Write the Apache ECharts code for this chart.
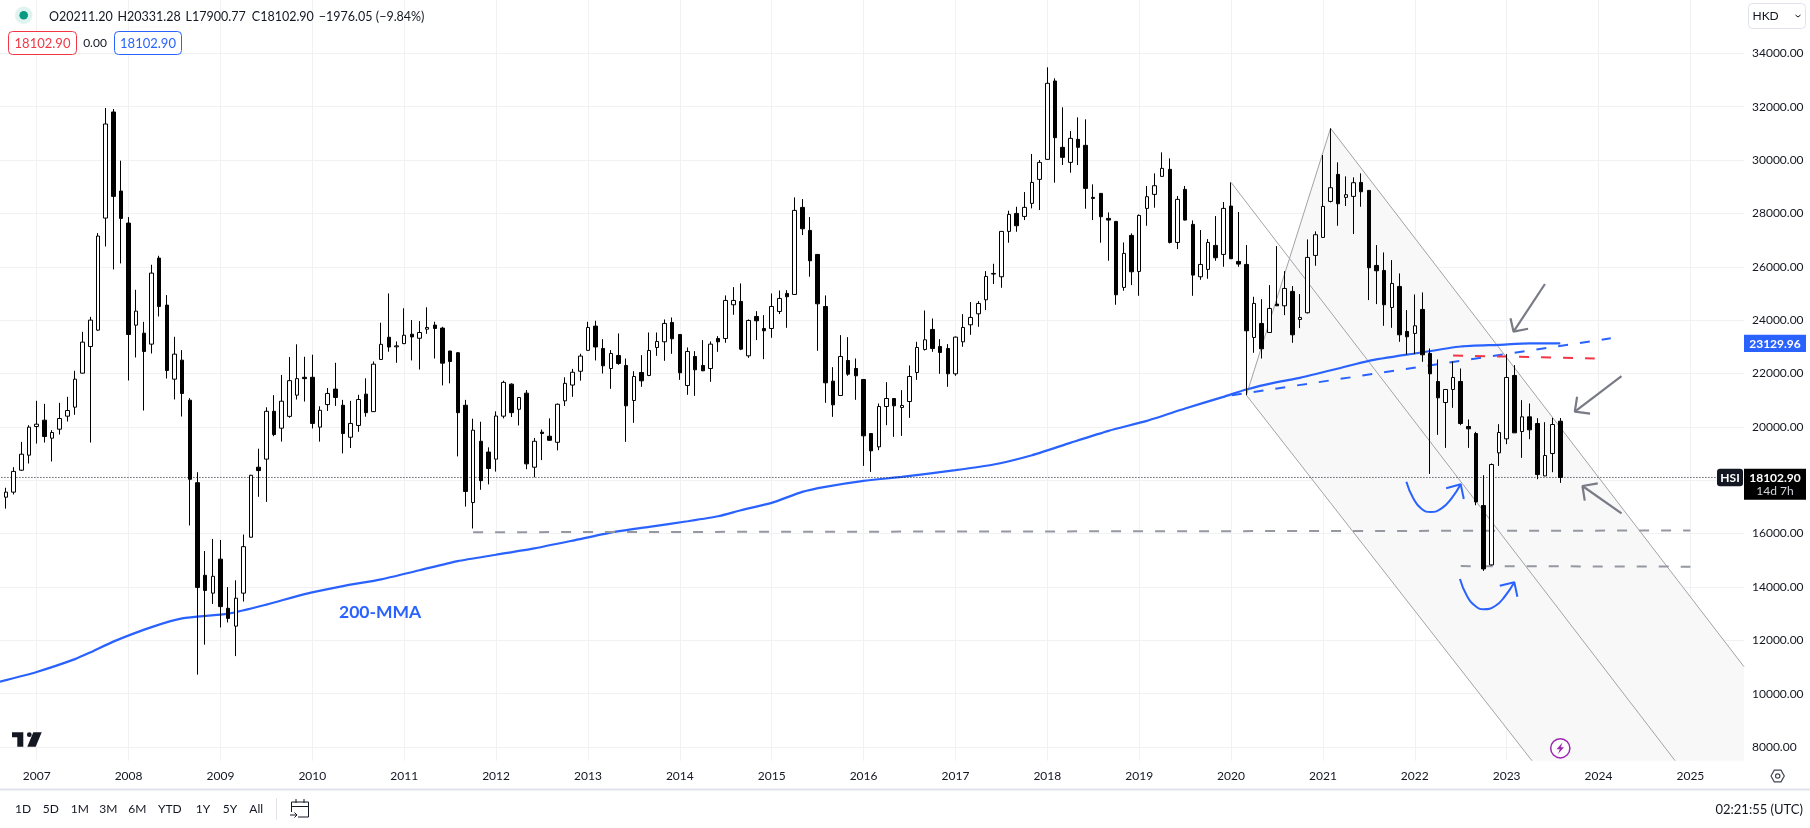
<!DOCTYPE html>
<html>
<head>
<meta charset="utf-8">
<style>html,body{margin:0;padding:0;background:#fff}#main{width:1810px;height:828px}</style>
<script src="https://cdn.jsdelivr.net/npm/echarts@6/dist/echarts.min.js"></script>
</head>
<body>
<div id="main"></div>
<script>
// monthly candles, Sep 2006 .. Aug 2023, one row per calendar year
const opens = [
17364,17553,18375,18938,
20012,20250,19575,19912,20400,20737,22012,23012,23625,27825,31800,28837,
27637,23812,23512,23100,26325,24562,21787,22500,20998,17906,14436,13767,
15042,13199,12530,13767,15862,18487,18790,20582,19951,20393,21188,21857,
21857,19989,20835,21415,20809,19610,20052,21226,20570,22526,23358,23000,
23119,23472,23320,23661,23813,23700,22841,22778,20809,17162,19459,19055,
18790,20400,21600,20658,21263,18487,19800,19648,19421,20974,21566,22084,
22866,23775,22937,22187,22675,22300,20987,22037,21925,22975,23187,23912,
23462,21550,22637,22300,22187,23312,23312,24575,24700,22662,24137,23687,
23687,24325,25000,24962,28225,27362,26462,24512,21712,21175,22487,22187,
21775,19750,19250,20762,21062,20725,20950,22037,22900,23650,23012,22937,
21987,23187,23825,24237,24762,25725,25625,27325,28000,27887,28375,29275,
30025,32962,30475,29912,30775,30550,28600,28750,27812,27700,25225,27175,
25825,28187,28712,29387,29650,26912,28900,27587,25625,25900,26800,26462,
28275,26200,26087,23350,23875,23537,24600,24537,25075,24025,24275,26425,
27100,28450,29462,28600,28637,29162,28862,26050,25862,24475,25262,23575,
23500,24400,22750,21700,20912,21400,21700,20012,19750,17050,14825,19025,
19550,21925,19825,20375,20125,18162,19000,20211.2];
const closes = [
17553,18330,18975,19988,
20100,19637,19787,20312,20612,21787,23175,24000,27150,31350,28637,27812,
23462,24337,22825,25762,24512,22112,22725,21250,18033,13982,13868,14398,
13262,12821,13578,15509,18184,18361,20582,19711,20961,21731,21806,21806,
20128,20620,21251,21100,19749,20128,21024,20532,22349,23093,22993,23035,
23434,23371,23535,23725,23687,22387,22450,20532,17578,19875,17982,18437,
20405,21667,20532,21100,18613,19459,19750,19496,20847,21630,22046,22652,
23725,22993,22287,22750,22375,20787,21887,21725,22862,23200,23875,23300,
22025,22825,22137,22100,23100,23187,24737,24737,22912,23987,23975,23600,
24512,24812,24875,28112,27425,26225,24612,21650,20825,22637,21975,21912,
19662,19100,20762,21062,20787,20800,21887,22975,23262,22937,22787,21987,
23362,23725,24100,24625,25637,25750,27325,27962,27537,28225,29162,29912,
32875,30837,30100,30812,30475,28937,28562,27875,27750,24950,26500,25812,
27925,28625,29037,29687,26912,28525,27750,25687,26087,26912,26337,28187,
26300,26100,23600,24625,22925,24437,24537,25187,23450,24100,26350,27200,
28262,28962,28362,28700,29150,28812,25962,25850,24575,25375,23450,23375,
23787,22700,21987,21087,21400,21850,20125,19925,17187,14675,18587,19787,
21850,19775,20375,19887,18212,18925,20087,18102.9];
const lows = [
16935,17465,18350,18625,
19375,19412,18700,19712,20200,20450,22000,19412,23600,26762,25900,26125,
21737,22600,20612,22750,24137,21812,21025,20387,16304,10713,11836,13364,
12480,12669,11407,13452,15850,17377,17187,19648,19446,20342,21024,20948,
19939,19446,20595,20784,19005,19206,19812,20380,20560,22520,22815,22400,
23100,22488,22147,23485,22563,21554,21630,18891,17011,16190,17641,17843,
18323,20317,20368,20052,18411,18108,18752,19480,19118,20784,21125,21730,
22860,22488,22000,21425,22325,19437,20150,21500,21900,22662,22475,22737,
21762,21200,21162,22090,21687,22812,23150,24200,22875,22587,23250,22537,
23337,24225,23712,24950,27187,25625,22850,20900,20375,21160,21912,21012,
18537,18312,19125,20062,19625,19662,20337,21762,22862,22812,21987,21500,
21912,23000,23450,23750,24375,25350,25212,26900,27312,27750,28187,28125,
30010,29150,29812,29525,29812,28175,27750,26900,26225,24575,25100,25312,
24912,27537,28212,29380,26875,26662,27737,24912,25512,25550,26225,26000,
26290,26000,21187,22775,22562,23525,24530,24187,23150,23700,24250,26037,
27090,28412,27537,28275,27225,28250,24750,24600,23787,23712,23187,22712,
22725,22437,18237,19700,19212,20712,20062,19212,17062,14600,14810,18537,
19350,19770,18837,19537,18037,18150,18300,17900.77];
const highs = [
17717,18487,19437,20062,
20975,20862,19875,20900,21125,22100,23562,24125,27262,31950,31912,29975,
27862,25137,23937,26075,26412,24937,23375,22875,21074,18298,15345,15799,
15761,13994,14247,15963,18200,19181,20733,21187,21945,22614,23093,22626,
22702,20771,21453,22400,21011,20974,21200,21819,22450,23901,25000,23200,
24444,24002,23964,24481,23939,23750,22850,22800,21011,20304,20191,19232,
20582,21730,21630,21110,21377,19585,19900,20317,20872,21857,22172,22740,
23939,23977,23287,22875,23500,22562,22087,22687,23537,23537,24025,24100,
23470,22975,22837,23250,23200,23400,24925,25237,25375,24025,24337,24187,
25000,25112,25125,28600,28537,27862,26470,24925,22237,23437,23362,22562,
21790,19760,20875,21675,21070,21375,22300,23187,24362,24062,23287,23100,
23387,24225,24675,24712,25837,26112,27340,28100,28250,28800,30225,30000,
33475,33062,31975,31087,31600,31525,29087,28760,28037,27710,26912,27250,
27960,29025,29500,30287,30062,28650,29025,27737,27375,27037,27900,28425,
29162,28050,26812,24875,24787,25312,26775,25837,25275,24975,27025,27325,
30187,31187,29912,29387,29350,29500,28870,26812,26537,26250,25750,24375,
24962,25037,22937,22525,21410,22450,22187,20275,19812,18187,18625,20100,
22725,22312,21000,20875,20325,20175,20337,20331.28];

// 200-month average read at some months: [month index, value]
const mma = [[0,10436],[5,10814],[10,11294],[12,11546],[15,11950],[20,12493],[24,12821],[30,12998],
[35,13338],[40,13730],[45,14032],[50,14285],[55,14625],[60,14966],[65,15206],[70,15446],[75,15736],
[80,16037],[85,16250],[90,16462],[94,16650],[97,16875],[101,17150],[105,17562],[108,17750],[113,17975],
[118,18125],[125,18375],[130,18587],[135,18937],[140,19400],[145,19850],[150,20225],[155,20687],
[160,21125],[163,21400],[167,21675],[170,21837],[175,22187],[179,22475],[185,22750],[191,23012],
[196,23075],[200,23130],[204,23129.96]];

const priceTicks = [8000,10000,12000,14000,16000,18000,20000,22000,24000,26000,28000,30000,32000,34000];
const lastClose = 18102.9;
const lastMma = 23129.96;

// drawings on the chart, [month index, price]
const channelTop = [[174,31187],[228,11009]];
const channelMid = [[161,29162],[219,7487]];
const channelLow = [[163,21187],[200.3,7487]];
const channelEdge = [[163,21187],[174,31187]];
const channelFill = [[163,21187],[174,31187],[228,11009],[228,7487],[200.3,7487]];
const blueDash = [[161.1,21187],[210.6,23318]];
const redDash = [[190,22675],[208.5,22562]];
const greyDash1 = [[62,16050],[221,16115]];
const greyDash2 = [[191,14780],[221,14760]];
const greyArrows = [
  [[202,25353],[197.9,23566]], [[197.5,24068],[197.9,23566],[199.8,23678]],
  [[212,21905],[205.9,20567]], [[206.2,21129],[205.9,20567],[207.9,20492]],
  [[212,16759],[206.9,17782]], [[208.9,17884],[206.9,17782],[207.2,17232]]
];
const blueCurves = [
  [[183.9,17943],[184.8,17321],[185.9,16919],[187.1,16808],[188.5,16945],[189.8,17321],[191,17846]],
  [[190.9,14297],[191.8,13671],[192.9,13285],[194,13161],[195.5,13285],[196.8,13660],[198,14173]]
];
const blueHeads = [
  [[189.1,17696],[191,17846],[191.4,17295]],
  [[196.1,14046],[198,14173],[198.4,13633]]
];

const months = [];
for (let y = 2006, m = 8; months.length < 229; m++) {
  if (m > 12) { m = 1; y++; }
  months.push(y + '-' + String(m).padStart(2, '0'));
}
const isJan = (i, name) => name.endsWith('-01');

const FONT = 'Lato';
const INK = '#131722';
const BLUE = '#2962ff';
const RED = '#f23645';
const GRID = '#f1f1f4';

var chart = echarts.init(document.getElementById('main'), null, { renderer: 'canvas' });

function drawLine(points, color, width, dash, z, smooth) {
  return {
    type: 'line', xAxisIndex: 1, yAxisIndex: 0, data: points, symbol: 'none', silent: true,
    smooth: smooth || false, z: z,
    lineStyle: { color: color, width: width, type: dash || 'solid' }
  };
}

const series = [
  {
    type: 'custom', xAxisIndex: 1, yAxisIndex: 0, z: 1, silent: true, data: [[0, 0]],
    renderItem: function (params, api) {
      return {
        type: 'polygon',
        shape: { points: channelFill.map(p => api.coord(p)) },
        style: { fill: '#f8f8f9' }
      };
    }
  },
  drawLine(channelEdge, '#a3a3a8', 1, null, 2),
  drawLine(channelTop, '#a3a3a8', 1, null, 2),
  drawLine(channelMid, '#a3a3a8', 1, null, 2),
  drawLine(channelLow, '#a3a3a8', 1, null, 2),
  drawLine(mma, BLUE, 2.2, null, 3, 0.2),
  drawLine(blueDash, BLUE, 2, [10, 12], 3),
  drawLine(redDash, RED, 2, [10, 12], 3),
  drawLine(greyDash1, '#9598a1', 2, [10, 12], 3),
  drawLine(greyDash2, '#9598a1', 2, [10, 12], 3),
  drawLine([[0, lastClose], [228, lastClose]], '#131722', 1, [1, 2], 3),
  {
    type: 'candlestick',
    xAxisIndex: 0, yAxisIndex: 0, z: 5, barWidth: 4, silent: true,
    encode: { x: 0, y: [1, 2, 3, 4] },
    data: opens.map((o, i) => [months[i + 1], o, closes[i], lows[i], highs[i]]),
    itemStyle: { color: '#fff', color0: '#000', borderColor: '#000', borderColor0: '#000', borderWidth: 1 }
  }
];
greyArrows.forEach(a => series.push(drawLine(a, '#787b86', 2.2, null, 6)));
blueCurves.forEach(a => series.push(drawLine(a, BLUE, 2, null, 6, 0.5)));
blueHeads.forEach(a => series.push(drawLine(a, BLUE, 2, null, 6)));

chart.setOption({
  animation: false,
  backgroundColor: '#fff',
  grid: { left: -1.58, right: 66, top: 0, bottom: 67.3, containLabel: false, outerBoundsMode: 'none' },
  xAxis: [
    {
      type: 'category', data: months, boundaryGap: false,
      axisLine: { show: false }, axisTick: { show: false },
      axisLabel: { interval: isJan, formatter: v => v.slice(0, 4), color: INK, fontFamily: FONT, fontSize: 12, margin: 9 },
      splitLine: { show: true, interval: isJan, lineStyle: { color: GRID, width: 1 } }
    },
    { type: 'value', min: 0, max: 228, show: false }
  ],
  yAxis: {
    type: 'value', position: 'right', min: 7487, max: 35998, scale: true,
    axisLine: { show: false },
    axisTick: { show: false, customValues: priceTicks },
    axisLabel: {
      customValues: priceTicks, color: INK, fontFamily: FONT, fontSize: 12, margin: 8,
      formatter: v => v.toFixed(2)
    },
    splitLine: { show: true, lineStyle: { color: GRID, width: 1 } }
  },
  series: series
});

const yLast = chart.convertToPixel({ yAxisIndex: 0 }, lastClose);
const yMma = chart.convertToPixel({ yAxisIndex: 0 }, lastMma);

function txt(x, y, text, color, size, align, weight) {
  return {
    type: 'text', x: x, y: y, z: 100,
    style: { text: text, fill: color, font: (weight || 'normal') + ' ' + size + 'px ' + FONT, textAlign: align || 'left', textVerticalAlign: 'middle' }
  };
}
function box(x, y, w, h, fill, stroke, r) {
  return { type: 'rect', z: 99, shape: { x: x, y: y, width: w, height: h, r: r || 0 }, style: { fill: fill, stroke: stroke || null, lineWidth: 1 } };
}

const chrome = [
  // symbol status dot and OHLC legend
  { type: 'circle', z: 99, shape: { cx: 23.7, cy: 15.2, r: 8.7 }, style: { fill: '#dff3f0' } },
  { type: 'circle', z: 100, shape: { cx: 23.7, cy: 15.2, r: 4.3 }, style: { fill: '#089981' } },
  txt(49, 17, 'O20211.20', INK, 12.5), txt(117.5, 17, 'H20331.28', INK, 12.5), txt(185.6, 17, 'L17900.77', INK, 12.5),
  txt(251.8, 17, 'C18102.90', INK, 12.5), txt(318.8, 17, '\u22121976.05', INK, 12.5), txt(375.8, 17, '(\u22129.84%)', INK, 12.5),
  box(8.5, 31.5, 68, 23, '#fff', RED, 4), txt(42.5, 43.5, '18102.90', RED, 13, 'center'),
  txt(95, 43.5, '0.00', INK, 12, 'center'),
  box(114.5, 31.5, 67, 23, '#fff', BLUE, 4), txt(148, 43.5, '18102.90', BLUE, 13, 'center'),
  // currency button
  box(1748.5, 3.5, 57, 25, '#fff', '#e0e3eb', 4), txt(1752.5, 16, 'HKD', INK, 12),
  { type: 'polyline', z: 100, shape: { points: [[1795.5, 15], [1798, 17], [1800.5, 15]] }, style: { stroke: INK, lineWidth: 1, fill: null } },
  // last price and average tags
  box(1744, yMma - 8.7, 62, 17.4, BLUE), txt(1775, yMma + 0.5, '23129.96', '#fff', 12, 'center', 'bold'),
  box(1717, yLast - 8.7, 26, 17.4, '#131722', null, 3), txt(1730, yLast + 0.5, 'HSI', '#fff', 12, 'center', 'bold'),
  box(1744, yLast - 8.7, 62, 31, '#000'), txt(1775, yLast + 0.5, '18102.90', '#fff', 12, 'center', 'bold'),
  txt(1775, yLast + 14, '14d 7h', '#d1d4dc', 12, 'center'),
  // labels on the chart
  txt(339, 612, '200-MMA', BLUE, 17.5, 'left', 'bold'),
  // TradingView mark
  { type: 'polygon', z: 100, shape: { points: [[12, 732.3], [23.3, 732.3], [23.3, 746.7], [17.3, 746.7], [17.3, 737.3], [12, 737.3]] }, style: { fill: INK } },
  { type: 'circle', z: 100, shape: { cx: 29.3, cy: 734.7, r: 2.4 }, style: { fill: INK } },
  { type: 'polygon', z: 100, shape: { points: [[33.3, 732.3], [41.7, 732.3], [35.7, 746.7], [27.3, 746.7]] }, style: { fill: INK } },
  // lightning badge
  { type: 'circle', z: 100, shape: { cx: 1560.3, cy: 748.3, r: 9.6 }, style: { fill: '#fff', stroke: '#9c27b0', lineWidth: 1.5 } },
  { type: 'polygon', z: 101, shape: { points: [[1562.5, 742.5], [1556.5, 749.3], [1559.8, 749.3], [1558, 754], [1564, 747.3], [1560.8, 747.3]] }, style: { fill: '#9c27b0' } },
  // settings gear
  { type: 'polygon', z: 100, shape: { points: [[1771, 776], [1774.3, 770.2], [1781, 770.2], [1784.3, 776], [1781, 781.8], [1774.3, 781.8]] }, style: { fill: '#fff', stroke: '#434651', lineWidth: 1.2 } },
  { type: 'circle', z: 101, shape: { cx: 1777.7, cy: 776, r: 2.2 }, style: { fill: '#fff', stroke: '#434651', lineWidth: 1.2 } },
  // bottom toolbar
  { type: 'line', z: 99, shape: { x1: 0, y1: 789.5, x2: 1810, y2: 789.5 }, style: { stroke: '#e0e3eb', lineWidth: 2 } },
  txt(15, 809, '1D', INK, 12), txt(42.7, 809, '5D', INK, 12), txt(70.7, 809, '1M', INK, 12), txt(99.3, 809, '3M', INK, 12),
  txt(128.3, 809, '6M', INK, 12), txt(158, 809, 'YTD', INK, 12), txt(195.7, 809, '1Y', INK, 12), txt(222.7, 809, '5Y', INK, 12),
  txt(249.3, 809, 'All', INK, 12),
  { type: 'line', z: 99, shape: { x1: 276.5, y1: 798, x2: 276.5, y2: 820 }, style: { stroke: '#e0e3eb', lineWidth: 1 } },
  { type: 'polyline', z: 100, shape: { points: [[291.5, 812], [291.5, 802], [308.5, 802], [308.5, 817], [298, 817]] }, style: { stroke: INK, lineWidth: 1, fill: null } },
  { type: 'line', z: 100, shape: { x1: 291.5, y1: 806.5, x2: 308.5, y2: 806.5 }, style: { stroke: INK, lineWidth: 1 } },
  { type: 'line', z: 100, shape: { x1: 296, y1: 799, x2: 296, y2: 803 }, style: { stroke: INK, lineWidth: 1 } },
  { type: 'line', z: 100, shape: { x1: 304, y1: 799, x2: 304, y2: 803 }, style: { stroke: INK, lineWidth: 1 } },
  { type: 'polyline', z: 100, shape: { points: [[290, 815], [297, 815]] }, style: { stroke: INK, lineWidth: 1, fill: null } },
  { type: 'polyline', z: 100, shape: { points: [[294.5, 812.5], [297, 815], [294.5, 817.5]] }, style: { stroke: INK, lineWidth: 1, fill: null } },
  txt(1803, 809.5, '02:21:55 (UTC)', INK, 13, 'right')
];
chart.setOption({ graphic: { elements: chrome } });
</script>
</body>
</html>
